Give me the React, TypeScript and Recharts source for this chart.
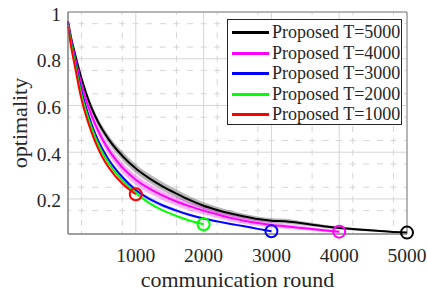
import {
  ComposedChart, Line, Area, XAxis, YAxis, CartesianGrid, ReferenceDot, ReferenceArea, Text,
} from 'recharts'

const rounds = [0, 50, 100, 200, 300, 400, 500, 600, 800, 1000, 1200, 1400, 1600, 1800, 2000,
  2200, 2400, 2600, 2800, 3000, 3200, 3400, 3600, 3800, 4000, 4200, 4400, 4600, 4800, 5000]

const t5000 = [0.96, 0.885, 0.825, 0.715, 0.625, 0.555, 0.5, 0.455, 0.385, 0.33, 0.288, 0.253, 0.223, 0.195, 0.171,
  0.153, 0.138, 0.125, 0.114, 0.107, 0.105, 0.098, 0.09, 0.082, 0.076, 0.071, 0.067, 0.063, 0.059, 0.056]
const t4000 = [0.955, 0.875, 0.81, 0.69, 0.595, 0.52, 0.46, 0.41, 0.335, 0.282, 0.244, 0.214, 0.189, 0.168, 0.15,
  0.134, 0.119, 0.107, 0.097, 0.089, 0.083, 0.077, 0.071, 0.065, 0.06]
const t3000 = [0.95, 0.865, 0.795, 0.66, 0.56, 0.48, 0.418, 0.368, 0.294, 0.238, 0.2, 0.172, 0.15, 0.131, 0.116,
  0.104, 0.093, 0.083, 0.072, 0.062]
const t2000 = [0.945, 0.86, 0.785, 0.645, 0.545, 0.465, 0.402, 0.353, 0.28, 0.226, 0.182, 0.151, 0.127, 0.107, 0.092]
const t1000 = [0.94, 0.845, 0.77, 0.625, 0.525, 0.445, 0.383, 0.335, 0.266, 0.22]

// half-width of the shaded spread around each mean curve
const spread5000 = [0.006, 0.009, 0.011, 0.013, 0.015, 0.016, 0.017, 0.018, 0.019, 0.019, 0.019, 0.018, 0.017, 0.016, 0.015,
  0.014, 0.013, 0.012, 0.011, 0.01, 0.01, 0.009, 0.008, 0.007, 0.006, 0.006, 0.005, 0.004, 0.003, 0.002]
const spread4000 = [0.006, 0.01, 0.013, 0.016, 0.018, 0.02, 0.021, 0.022, 0.022, 0.022, 0.021, 0.02, 0.019, 0.018, 0.017,
  0.016, 0.015, 0.014, 0.012, 0.011, 0.01, 0.009, 0.008, 0.007, 0.005]
const spread3000 = [0.004, 0.006, 0.008, 0.01, 0.011, 0.012, 0.012, 0.012, 0.012, 0.011, 0.01, 0.009, 0.008, 0.007, 0.006,
  0.005, 0.005, 0.004, 0.004, 0.003]

const xTicks = [1000, 2000, 3000, 4000, 5000]
const yTicks = [0.2, 0.4, 0.6, 0.8, 1]
const yTickLabels = ['0.2', '0.4', '0.6', '0.8', '1']
const xMinor = [200, 400, 600, 800, 1200, 1400, 1600, 1800, 2200, 2400, 2600, 2800,
  3200, 3400, 3600, 3800, 4200, 4400, 4600, 4800]
const yMinor = [0.1, 0.15, 0.25, 0.3, 0.35, 0.45, 0.5, 0.55, 0.65, 0.7, 0.75, 0.85, 0.9, 0.95]

const series = [
  { key: 'T5000', name: 'Proposed T=5000', color: '#000000', vals: t5000, spread: spread5000, band: 'rgba(0,0,0,0.28)' },
  { key: 'T4000', name: 'Proposed T=4000', color: '#ff00ff', vals: t4000, spread: spread4000, band: 'rgba(255,0,255,0.3)' },
  { key: 'T3000', name: 'Proposed T=3000', color: '#0000ff', vals: t3000, spread: spread3000, band: 'rgba(90,90,255,0.25)' },
  { key: 'T2000', name: 'Proposed T=2000', color: '#00ff00', vals: t2000, spread: null, band: '' },
  { key: 'T1000', name: 'Proposed T=1000', color: '#ff0000', vals: t1000, spread: null, band: '' },
]

const data = rounds.map((t, i) => {
  const row: Record<string, any> = { t }
  series.forEach(s => {
    if (i < s.vals.length) {
      row[s.key] = s.vals[i]
      if (s.spread) row[s.key + 'band'] = [s.vals[i] - s.spread[i], s.vals[i] + s.spread[i]]
    }
  })
  return row
})

const FONT = 'Liberation Serif'
const TEXT = '#262626'
const AXIS = '#808080'
const GRID = '#d6d6d6'

function XTick({ x, y, payload }: any) {
  return (
    <Text x={x} y={y + 20.5} textAnchor="middle" fill={TEXT} fontSize={19.5} fontFamily={FONT}>
      {String(payload.value)}
    </Text>
  )
}

function YTick({ x, y, payload }: any) {
  const label = yTickLabels[yTicks.indexOf(payload.value)] ?? String(payload.value)
  return (
    <Text x={x} y={y + 8.5} textAnchor="end" fill={TEXT} fontSize={19.5} fontFamily={FONT}>
      {label}
    </Text>
  )
}

export default function App() {
  return (
    <div style={{ position: 'absolute', left: 0, top: 0, width: 427, height: 294, background: '#fff', fontFamily: FONT }}>
      <ComposedChart width={427} height={294} data={data} margin={{ top: 12, right: 20, bottom: 0, left: 0 }} style={{ fontFamily: FONT }}>
        <CartesianGrid horizontal={false} verticalValues={xMinor} stroke={GRID} strokeDasharray="6 5.7" strokeDashoffset={3} />
        <CartesianGrid vertical={false} horizontalValues={yMinor} stroke={GRID} strokeDasharray="6 7.56" strokeDashoffset={3} />
        <CartesianGrid verticalValues={xTicks} horizontalValues={yTicks} stroke={GRID} />
        <XAxis
          dataKey="t" type="number" domain={[0, 5000]} ticks={xTicks} height={60}
          stroke={AXIS} tickSize={0} tickMargin={7} tick={<XTick />}
          label={{ value: 'communication round', position: 'insideBottom', offset: 7, fill: TEXT, fontSize: 22, fontFamily: FONT }}
        />
        <YAxis
          type="number" domain={[0.05, 1]} ticks={yTicks} width={68} allowDataOverflow
          stroke={AXIS} tickSize={0} tickMargin={7} tick={<YTick />}
          label={{ value: 'optimality', angle: -90, position: 'insideLeft', offset: 19, fill: TEXT, fontSize: 22, fontFamily: FONT, style: { textAnchor: 'middle' } }}
        />
        <ReferenceArea x1={0} x2={5000} y1={0.05} y2={1} fill="none" stroke={AXIS} strokeWidth={1} />
        {series.filter(s => s.spread).map(s => (
          <Area
            key={s.key + 'band'} dataKey={s.key + 'band'} type="monotone"
            stroke="none" fill={s.band} fillOpacity={1} isAnimationActive={false} activeDot={false}
          />
        ))}
        {series.map(s => (
          <Line
            key={s.key} dataKey={s.key} type="monotone" stroke={s.color} strokeWidth={2}
            dot={false} activeDot={false} isAnimationActive={false}
          />
        ))}
        {series.map(s => (
          <ReferenceDot
            key={s.key + 'end'} x={rounds[s.vals.length - 1]} y={s.vals[s.vals.length - 1]}
            r={6} fill="none" stroke={s.color} strokeWidth={2}
          />
        ))}
      </ComposedChart>
      <div style={{
        position: 'absolute', left: 227, top: 19, width: 173, height: 104,
        border: `1px solid ${TEXT}`, background: '#fff',
      }}>
        {series.map((s, i) => (
          <div key={s.key} style={{ position: 'absolute', left: 4, top: [2, 23, 43, 64, 84][i], height: 21, display: 'flex', alignItems: 'center' }}>
            <div style={{ width: 37, height: 3, background: s.color, marginRight: 3 }} />
            <span style={{ fontSize: 18, lineHeight: '21px', color: TEXT, whiteSpace: 'nowrap' }}>{s.name}</span>
          </div>
        ))}
      </div>
    </div>
  )
}
